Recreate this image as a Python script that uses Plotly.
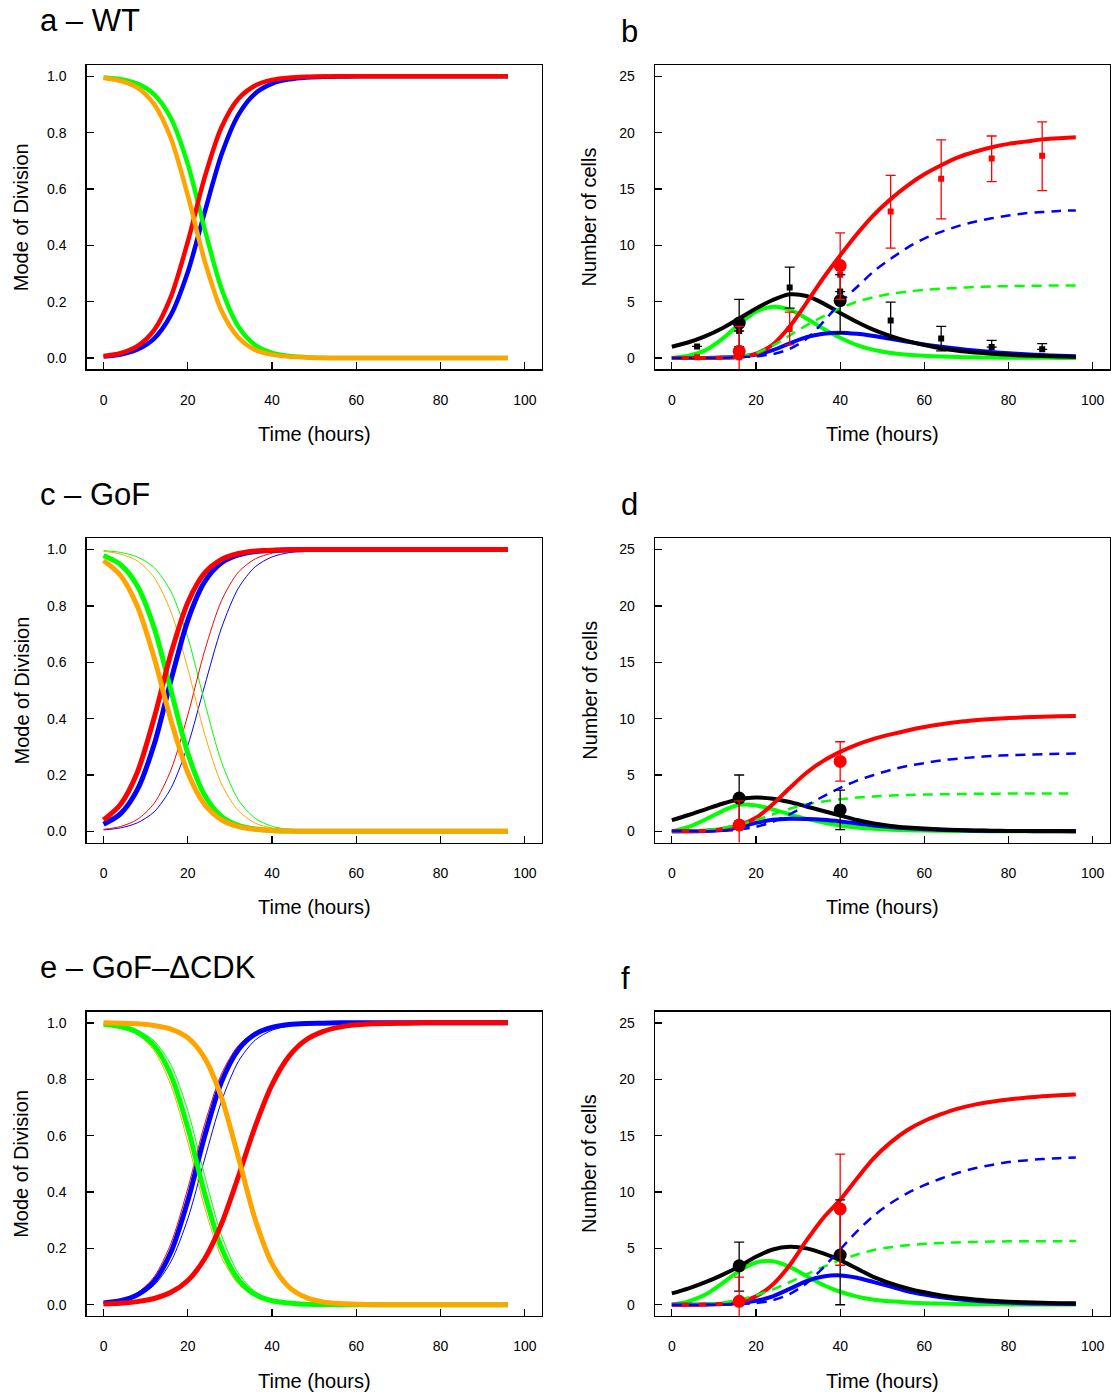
import plotly.graph_objects as go

# ---------------- data ----------------
T = [0, 4, 8, 12, 16, 20, 24, 28, 32, 36, 40, 44, 48, 52, 56, 60, 64, 68, 72, 76, 80, 84, 88, 92, 96]

# Panel a (WT) - mode of division
wt_red    = [0.007, 0.017, 0.042, 0.099, 0.218, 0.413, 0.641, 0.819, 0.920, 0.967, 0.987, 0.995, 0.998, 0.999, 1.0, 1.0, 1.0, 1.0, 1.0, 1.0, 1.0, 1.0, 1.0, 1.0, 1.0]
wt_blue   = [0.005, 0.012, 0.030, 0.069, 0.153, 0.305, 0.517, 0.722, 0.863, 0.939, 0.974, 0.989, 0.996, 0.998, 0.999, 1.0, 1.0, 1.0, 1.0, 1.0, 1.0, 1.0, 1.0, 1.0, 1.0]
wt_green  = [0.996, 0.990, 0.974, 0.936, 0.851, 0.688, 0.458, 0.246, 0.112, 0.046, 0.018, 0.007, 0.003, 0.001, 0.0, 0.0, 0.0, 0.0, 0.0, 0.0, 0.0, 0.0, 0.0, 0.0, 0.0]
wt_orange = [0.994, 0.984, 0.960, 0.901, 0.779, 0.577, 0.345, 0.168, 0.073, 0.029, 0.012, 0.005, 0.002, 0.0, 0.0, 0.0, 0.0, 0.0, 0.0, 0.0, 0.0, 0.0, 0.0, 0.0, 0.0]

# Panel c (GoF)
gof_red    = [0.040, 0.095, 0.209, 0.402, 0.631, 0.812, 0.917, 0.965, 0.986, 0.995, 0.998, 0.999, 1.0, 1.0, 1.0, 1.0, 1.0, 1.0, 1.0, 1.0, 1.0, 1.0, 1.0, 1.0, 1.0]
gof_blue   = [0.025, 0.062, 0.147, 0.308, 0.536, 0.749, 0.886, 0.953, 0.981, 0.993, 0.997, 0.999, 1.0, 1.0, 1.0, 1.0, 1.0, 1.0, 1.0, 1.0, 1.0, 1.0, 1.0, 1.0, 1.0]
gof_green  = [0.979, 0.947, 0.872, 0.723, 0.500, 0.277, 0.128, 0.053, 0.021, 0.008, 0.003, 0.001, 0.0, 0.0, 0.0, 0.0, 0.0, 0.0, 0.0, 0.0, 0.0, 0.0, 0.0, 0.0, 0.0]
gof_orange = [0.961, 0.909, 0.800, 0.617, 0.394, 0.208, 0.095, 0.041, 0.017, 0.007, 0.003, 0.001, 0.0, 0.0, 0.0, 0.0, 0.0, 0.0, 0.0, 0.0, 0.0, 0.0, 0.0, 0.0, 0.0]

# Panel e (GoF-dCDK)
cdk_red    = [0.003, 0.005, 0.011, 0.022, 0.044, 0.086, 0.163, 0.287, 0.455, 0.633, 0.781, 0.881, 0.939, 0.969, 0.985, 0.993, 0.997, 0.998, 0.999, 1.0, 1.0, 1.0, 1.0, 1.0, 1.0]
cdk_blue   = [0.006, 0.014, 0.035, 0.083, 0.187, 0.369, 0.598, 0.791, 0.905, 0.960, 0.984, 0.994, 0.998, 0.999, 1.0, 1.0, 1.0, 1.0, 1.0, 1.0, 1.0, 1.0, 1.0, 1.0, 1.0]
cdk_green  = [0.995, 0.987, 0.967, 0.919, 0.814, 0.628, 0.394, 0.201, 0.089, 0.036, 0.014, 0.006, 0.002, 0.001, 0.0, 0.0, 0.0, 0.0, 0.0, 0.0, 0.0, 0.0, 0.0, 0.0, 0.0]
cdk_orange = [1.0, 0.999, 0.997, 0.991, 0.978, 0.947, 0.875, 0.735, 0.523, 0.302, 0.146, 0.063, 0.026, 0.010, 0.004, 0.002, 0.0, 0.0, 0.0, 0.0, 0.0, 0.0, 0.0, 0.0, 0.0]

# Panel b (WT) - number of cells
b_red        = [0.0, 0.0, 0.01, 0.03, 0.1, 0.4, 1.2, 2.8, 4.9, 7.1, 9.1, 11.0, 12.7, 14.1, 15.3, 16.3, 17.1, 17.8, 18.3, 18.7, 19.0, 19.2, 19.4, 19.5, 19.6]
b_blue_dash  = [0.0, 0.0, 0.01, 0.03, 0.08, 0.15, 0.35, 0.8, 1.7, 3.2, 4.9, 6.3, 7.7, 8.8, 9.8, 10.6, 11.2, 11.7, 12.1, 12.4, 12.65, 12.85, 12.95, 13.05, 13.1]
b_green_dash = [0.0, 0.0, 0.01, 0.05, 0.15, 0.45, 1.1, 2.0, 2.9, 3.7, 4.4, 5.0, 5.4, 5.7, 5.9, 6.05, 6.15, 6.23, 6.3, 6.35, 6.38, 6.4, 6.42, 6.43, 6.44]
b_blue       = [0.0, 0.0, 0.01, 0.04, 0.12, 0.3, 0.7, 1.3, 1.85, 2.15, 2.25, 2.15, 1.95, 1.7, 1.45, 1.2, 1.0, 0.82, 0.66, 0.53, 0.42, 0.33, 0.26, 0.2, 0.16]
b_green      = [0.0, 0.2, 0.7, 1.7, 3.0, 4.1, 4.55, 4.3, 3.5, 2.6, 1.8, 1.15, 0.72, 0.45, 0.3, 0.2, 0.13, 0.09, 0.06, 0.04, 0.03, 0.02, 0.02, 0.01, 0.01]
b_black      = [1.0, 1.4, 1.95, 2.65, 3.5, 4.4, 5.15, 5.65, 5.5, 4.85, 4.0, 3.2, 2.5, 1.95, 1.5, 1.15, 0.85, 0.65, 0.5, 0.38, 0.29, 0.22, 0.17, 0.13, 0.1]

# Panel d (GoF)
d_red        = [0.0, 0.01, 0.05, 0.2, 0.55, 1.2, 2.4, 3.85, 5.2, 6.25, 7.05, 7.7, 8.2, 8.6, 8.95, 9.25, 9.5, 9.7, 9.85, 9.97, 10.05, 10.12, 10.17, 10.2, 10.23]
d_blue_dash  = [0.0, 0.0, 0.01, 0.05, 0.15, 0.4, 0.85, 1.5, 2.3, 3.1, 3.85, 4.5, 5.0, 5.45, 5.8, 6.05, 6.3, 6.45, 6.58, 6.68, 6.75, 6.8, 6.85, 6.88, 6.9]
d_green_dash = [0.0, 0.02, 0.1, 0.3, 0.6, 1.0, 1.5, 2.0, 2.4, 2.65, 2.85, 3.0, 3.1, 3.17, 3.22, 3.26, 3.29, 3.31, 3.33, 3.34, 3.35, 3.35, 3.36, 3.36, 3.36]
d_blue       = [0.0, 0.0, 0.03, 0.12, 0.35, 0.75, 1.02, 1.12, 1.1, 1.02, 0.88, 0.7, 0.52, 0.38, 0.27, 0.19, 0.13, 0.09, 0.06, 0.04, 0.03, 0.02, 0.01, 0.01, 0.01]
d_green      = [0.0, 0.4, 1.05, 1.8, 2.35, 2.3, 1.95, 1.5, 1.1, 0.78, 0.52, 0.35, 0.23, 0.15, 0.1, 0.07, 0.05, 0.03, 0.02, 0.01, 0.01, 0.01, 0.01, 0.01, 0.01]
d_black      = [1.0, 1.45, 1.95, 2.45, 2.85, 3.0, 2.9, 2.6, 2.2, 1.8, 1.4, 1.0, 0.7, 0.48, 0.34, 0.24, 0.17, 0.12, 0.08, 0.06, 0.04, 0.03, 0.02, 0.02, 0.01]

# Panel f (GoF-dCDK)
f_red        = [0.0, 0.0, 0.02, 0.08, 0.25, 0.75, 1.8, 3.5, 5.7, 7.7, 9.3, 11.2, 13.0, 14.4, 15.5, 16.3, 16.9, 17.4, 17.75, 18.0, 18.2, 18.35, 18.5, 18.58, 18.65]
f_blue_dash  = [0.0, 0.0, 0.01, 0.02, 0.05, 0.15, 0.4, 0.95, 1.9, 3.3, 4.9, 6.5, 7.9, 9.0, 9.9, 10.6, 11.2, 11.7, 12.1, 12.4, 12.65, 12.8, 12.92, 13.0, 13.05]
f_green_dash = [0.0, 0.02, 0.08, 0.2, 0.45, 0.85, 1.35, 2.0, 2.7, 3.35, 3.95, 4.45, 4.85, 5.1, 5.28, 5.4, 5.48, 5.53, 5.57, 5.6, 5.62, 5.63, 5.64, 5.64, 5.65]
f_blue       = [0.0, 0.0, 0.02, 0.06, 0.15, 0.35, 0.75, 1.4, 2.1, 2.5, 2.6, 2.4, 2.0, 1.6, 1.2, 0.9, 0.66, 0.48, 0.35, 0.26, 0.19, 0.14, 0.1, 0.08, 0.06]
f_green      = [0.0, 0.3, 0.9, 1.9, 3.0, 3.75, 3.85, 3.35, 2.55, 1.75, 1.15, 0.72, 0.45, 0.3, 0.2, 0.14, 0.1, 0.07, 0.05, 0.04, 0.03, 0.02, 0.02, 0.01, 0.01]
f_black      = [1.0, 1.45, 2.0, 2.65, 3.4, 4.25, 4.9, 5.15, 5.0, 4.55, 3.95, 3.2, 2.45, 1.9, 1.45, 1.1, 0.82, 0.62, 0.47, 0.36, 0.27, 0.21, 0.17, 0.14, 0.12]

# Experimental points (circles): times 16 and 40
circ_t = [16, 40]
b_circ_black = [3.1, 5.1];  b_circ_black_up = [2.1, 2.3];  b_circ_black_dn = [2.1, 2.9]
b_circ_red   = [0.6, 8.2];  b_circ_red_up   = [2.2, 2.9];  b_circ_red_dn   = [2.2, 3.0]
d_circ_black = [2.95, 1.9]; d_circ_black_up = [2.05, 1.75]; d_circ_black_dn = [2.05, 1.75]
d_circ_red   = [0.56, 6.2]; d_circ_red_up   = [2.15, 1.75]; d_circ_red_dn   = [2.15, 1.75]
f_circ_black = [3.45, 4.4]; f_circ_black_up = [2.1, 4.9];   f_circ_black_dn = [2.25, 4.4]
f_circ_red   = [0.3, 8.5];  f_circ_red_up   = [2.15, 4.85]; f_circ_red_dn   = [2.15, 5.0]

# Experimental points (squares), panel b
sq_t = [6, 16, 28, 40, 52, 64, 76, 88]
b_sq_black    = [1.03, 2.4, 6.26, 5.9, 3.34, 1.74, 0.97, 0.77]
b_sq_black_up = [None, None, 1.8, None, 1.62, 1.06, 0.6, 0.5]
b_sq_black_dn = [None, None, 1.83, None, 1.64, 1.1, 0.0, 0.0]
b_sq_red      = [0.06, 0.06, 2.57, 7.4, 13.0, 15.9, 17.7, 17.95]
b_sq_red_up   = [None, None, 1.5, None, 3.2, 3.45, 2.0, 3.0]
b_sq_red_dn   = [None, None, 1.4, None, 3.25, 3.55, 2.05, 3.1]

# ---------------- figure ----------------
W, H = 1111, 1393
FONT = "Liberation Sans, Arial, Helvetica, sans-serif"
RED, BLUE, GREEN, ORANGE, BLACK = "#FF0000", "#0000FF", "#00FF00", "#FFA500", "#000000"

fig = go.Figure()

def ax(i):
    return ("x" if i == 1 else f"x{i}"), ("y" if i == 1 else f"y{i}")

def line(i, y, color, width=4, dash=None):
    xa, ya = ax(i)
    fig.add_trace(go.Scatter(
        x=T, y=y, mode="lines", xaxis=xa, yaxis=ya, showlegend=False, hoverinfo="skip",
        line=dict(color=color, width=width, shape="spline", smoothing=0.8,
                  dash=dash if dash else "solid")))

def points(i, t, y, up, dn, color, symbol, size, capw):
    xa, ya = ax(i)
    fig.add_trace(go.Scatter(
        x=t, y=y, mode="markers", xaxis=xa, yaxis=ya, showlegend=False, hoverinfo="skip",
        marker=dict(color=color, symbol=symbol, size=size, line=dict(width=0)),
        error_y=dict(type="data", symmetric=False, array=up, arrayminus=dn,
                     color=color, thickness=1.3, width=capw)))

DASH = "10px,7px"

# a
line(1, wt_blue, BLUE, 4.5); line(1, wt_green, GREEN, 4.5); line(1, wt_red, RED, 4.5); line(1, wt_orange, ORANGE, 4.5)
# c
line(3, wt_blue, BLUE, 1); line(3, wt_green, GREEN, 1); line(3, wt_red, RED, 1); line(3, wt_orange, ORANGE, 1)
line(3, gof_blue, BLUE, 5); line(3, gof_green, GREEN, 5); line(3, gof_red, RED, 5); line(3, gof_orange, ORANGE, 5)
# e
line(5, wt_blue, BLUE, 1); line(5, wt_green, GREEN, 1); line(5, wt_red, RED, 1); line(5, wt_orange, ORANGE, 1)
line(5, cdk_blue, BLUE, 5); line(5, cdk_green, GREEN, 5); line(5, cdk_red, RED, 5); line(5, cdk_orange, ORANGE, 5)

# b, d, f
for i, (gr, bl, bk, rd, gd, bd) in zip(
        [2, 4, 6],
        [(b_green, b_blue, b_black, b_red, b_green_dash, b_blue_dash),
         (d_green, d_blue, d_black, d_red, d_green_dash, d_blue_dash),
         (f_green, f_blue, f_black, f_red, f_green_dash, f_blue_dash)]):
    line(i, gr, GREEN, 4)
    line(i, bl, BLUE, 4)
    line(i, bk, BLACK, 4)
    line(i, rd, RED, 4)
    line(i, gd, GREEN, 2.5, DASH)
    line(i, bd, BLUE, 2.5, DASH)

points(2, sq_t, b_sq_black, b_sq_black_up, b_sq_black_dn, BLACK, "square", 6, 5)
points(2, sq_t, b_sq_red, b_sq_red_up, b_sq_red_dn, RED, "square", 6, 5)
points(2, circ_t, b_circ_black, b_circ_black_up, b_circ_black_dn, BLACK, "circle", 13, 5)
points(2, circ_t, b_circ_red, b_circ_red_up, b_circ_red_dn, RED, "circle", 13, 5)
points(4, circ_t, d_circ_black, d_circ_black_up, d_circ_black_dn, BLACK, "circle", 13, 5)
points(4, circ_t, d_circ_red, d_circ_red_up, d_circ_red_dn, RED, "circle", 13, 5)
points(6, circ_t, f_circ_black, f_circ_black_up, f_circ_black_dn, BLACK, "circle", 13, 5)
points(6, circ_t, f_circ_red, f_circ_red_up, f_circ_red_dn, RED, "circle", 13, 5)

# ---------------- layout ----------------
def px_x(p): return p / W
def px_y(p): return 1 - p / H

xdom_left = [px_x(86.7), px_x(541.7)]
xdom_right = [px_x(655.0), px_x(1109.5)]
rows = [(65.0, 369.3), (538.3, 842.6), (1011.6, 1316.0)]

common = dict(showline=True, mirror=True, linecolor="black", linewidth=1.4,
              ticks="inside", ticklen=7, tickwidth=1.3, tickcolor="black",
              showgrid=False, zeroline=False,
              tickfont=dict(family=FONT, size=14, color="black"))

layout = dict(width=W, height=H, margin=dict(l=0, r=0, t=0, b=0),
              paper_bgcolor="white", plot_bgcolor="white", showlegend=False)

for r, (top, bot) in enumerate(rows):
    for c in range(2):
        i = r * 2 + c + 1
        xk = "xaxis" if i == 1 else f"xaxis{i}"
        yk = "yaxis" if i == 1 else f"yaxis{i}"
        xa, ya = ax(i)
        layout[xk] = dict(common, domain=xdom_left if c == 0 else xdom_right,
                          anchor=ya, range=[-4, 104],
                          tickvals=[0, 20, 40, 60, 80, 100], ticklabelstandoff=17)
        if c == 0:
            layout[yk] = dict(common, domain=[px_y(bot), px_y(top)], anchor=xa,
                              range=[-0.04, 1.04],
                              tickvals=[0, 0.2, 0.4, 0.6, 0.8, 1.0],
                              ticktext=["0.0", "0.2", "0.4", "0.6", "0.8", "1.0"],
                              ticklabelstandoff=16)
        else:
            layout[yk] = dict(common, domain=[px_y(bot), px_y(top)], anchor=xa,
                              range=[-1, 26], tickvals=[0, 5, 10, 15, 20, 25],
                              ticklabelstandoff=16)

fig.update_layout(**layout)

ann = []
def text(s, x, y, size, xanchor="center", angle=0):
    ann.append(dict(text=s, x=px_x(x), y=px_y(y), xref="paper", yref="paper",
                    xanchor=xanchor, yanchor="middle", showarrow=False, textangle=angle,
                    font=dict(family=FONT, size=size, color="black")))

TS = 31
for k, (lab_l, lab_r) in enumerate([("a – WT", "b"), ("c – GoF", "d"), ("e – GoF–ΔCDK", "f")]):
    off = k * 473.3
    text(lab_l, 38, 31.7 - 0.3465 * TS + off, TS, "left")
    text(lab_r, 619, 42.3 - 0.3465 * TS + off, TS, "left")
    text("Time (hours)", 314.2, 434.0 + off, 20)
    text("Time (hours)", 882.5, 434.0 + off, 20)
    text("Mode of Division", 21.0, 217.2 + off, 20, angle=-90)
    text("Number of cells", 589.3, 217.2 + off, 20, angle=-90)

fig.update_layout(annotations=ann)
# remove the default 8px page margin so the figure fills the window exactly
fig.write_html("out.html", config={"displayModeBar": False, "staticPlot": True},
               post_script="document.body.style.margin='0px';")
